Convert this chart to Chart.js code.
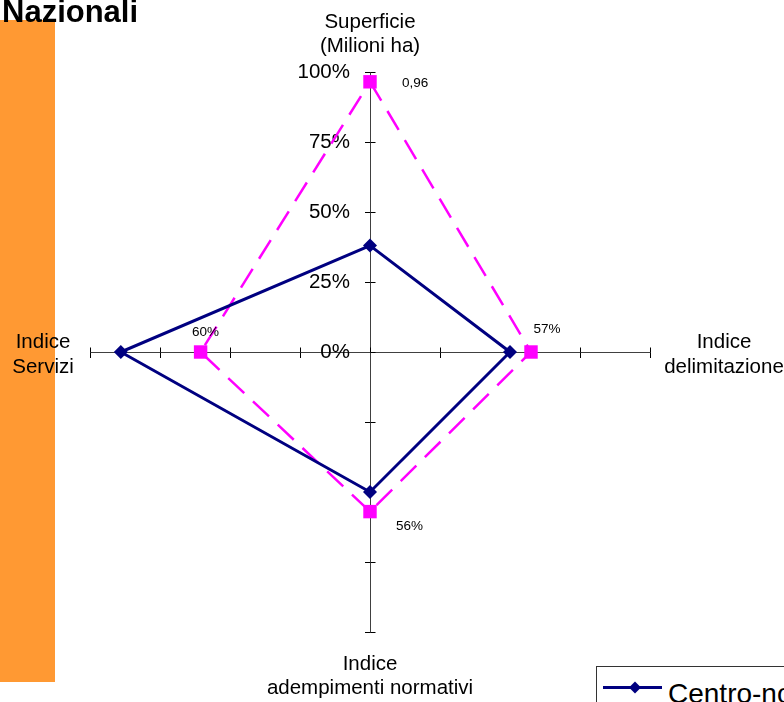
<!DOCTYPE html>
<html><head><meta charset="utf-8">
<script src="https://cdn.jsdelivr.net/npm/chart.js@4"></script>
<style>
html,body{margin:0;padding:0;background:#fff;overflow:hidden;}
#wrap{position:relative;width:784px;height:702px;overflow:hidden;}
#bar{position:absolute;left:0;top:20px;width:55px;height:662px;background:#FF9933;z-index:0;}
#title{position:absolute;left:2px;top:-4px;font:bold 31px 'Liberation Sans',Arial,sans-serif;line-height:31px;color:#000;z-index:3;white-space:nowrap;}
#cv{position:absolute;left:0;top:0;z-index:2;}
#legend{position:absolute;left:596px;top:666px;width:300px;height:100px;border:1px solid #333;background:#fff;z-index:3;}
#legend svg{position:absolute;left:6px;top:12px;}
#legend span{position:absolute;left:71px;top:12px;font:28px 'Liberation Sans',Arial,sans-serif;line-height:30px;color:#000;white-space:nowrap;}
</style></head>
<body>
<div id="wrap">
  <div id="bar"></div>
  <div id="title">Nazionali</div>
  <canvas id="cv" width="784" height="702"></canvas>
  <div id="legend"><svg width="62" height="18"><line x1="0" y1="8.5" x2="59" y2="8.5" stroke="#000080" stroke-width="3"/><polygon points="32,2.5 38,8.5 32,14.5 26,8.5" fill="#000080"/></svg><span id="legText"></span></div>
</div>
<script>
// axis order: top, right, bottom, left
const categories = [['Superficie', '(Milioni ha)'], ['Indice', 'delimitazione'], ['Indice', 'adempimenti normativi'], ['Indice', 'Servizi']];
const seriesNames = ['Centro-nord', 'Italia'];
const centroNord = [0.38, 0.50, 0.50, 0.89];
const italia = [0.965, 0.575, 0.57, 0.605];
const italiaLabels = ['0,96', '57%', '56%', '60%'];
const tickValues = [0, 0.25, 0.5, 0.75, 1];
const tickLabels = ['0%', '25%', '50%', '75%', '100%'];

document.getElementById('legText').textContent = seriesNames[0];

function toPoints(v) {
  return [{x: 0, y: v[0]}, {x: v[1], y: 0}, {x: 0, y: -v[2]}, {x: -v[3], y: 0}, {x: 0, y: v[0]}];
}
const FONT = "'Liberation Sans', Arial, sans-serif";

const radarLabels = {
  id: 'radarLabels',
  beforeDatasetsDraw(chart) {
    const {ctx, scales: {x, y}} = chart;
    const cx = Math.round(x.getPixelForValue(0)) + 0.5;
    const cy = Math.round(y.getPixelForValue(0)) + 0.5;
    ctx.save();
    ctx.strokeStyle = '#000'; ctx.lineWidth = 1;
    ctx.beginPath();
    y.ticks.forEach(t => { const py = Math.round(y.getPixelForValue(t.value)) + 0.5; ctx.moveTo(cx, py); ctx.lineTo(cx + 5, py); });
    x.ticks.forEach(t => { const px = Math.round(x.getPixelForValue(t.value)) + 0.5; ctx.moveTo(px, cy); ctx.lineTo(px, cy - 5); });
    ctx.stroke();
    ctx.restore();
  },
  afterDatasetsDraw(chart) {
    const {ctx, scales: {x, y}} = chart;
    const cx = x.getPixelForValue(0), cy = y.getPixelForValue(0);
    const top = y.getPixelForValue(1), bottom = y.getPixelForValue(-1);
    const left = x.getPixelForValue(-1), right = x.getPixelForValue(1);
    ctx.save();
    ctx.fillStyle = '#000';
    ctx.font = '20.5px ' + FONT;
    ctx.textAlign = 'center';
    ctx.textBaseline = 'alphabetic';
    const pos = [
      [cx, top - 44, top - 20],
      [right + 74, cy - 4, cy + 21],
      [cx, bottom + 38, bottom + 62],
      [left - 47, cy - 4, cy + 21]
    ];
    categories.forEach((lines, i) => {
      ctx.fillText(lines[0], pos[i][0], pos[i][1]);
      ctx.fillText(lines[1], pos[i][0], pos[i][2]);
    });
    // data labels of second series
    const meta = chart.getDatasetMeta(0);
    const offs = [['left', 32, 5], ['center', 16, -19], ['left', 26, 18], ['center', 5, -16]];
    ctx.font = '13.5px ' + FONT;
    italiaLabels.forEach((t, i) => {
      const el = meta.data[i];
      ctx.textAlign = offs[i][0];
      ctx.fillText(t, el.x + offs[i][1], el.y + offs[i][2]);
    });
    ctx.restore();
  }
};

new Chart(document.getElementById('cv'), {
  type: 'scatter',
  data: {
    datasets: [
      {
        label: seriesNames[1],
        data: toPoints(italia),
        showLine: true,
        borderColor: '#FF00FF',
        backgroundColor: '#FF00FF',
        borderWidth: 2.5,
        borderDash: [22, 12],
        pointStyle: 'rect',
        pointRadius: [9.5, 9.5, 9.5, 9.5, 0],
        pointBorderWidth: 0,
        order: 2
      },
      {
        label: seriesNames[0],
        data: toPoints(centroNord),
        showLine: true,
        borderColor: '#000080',
        backgroundColor: '#000080',
        borderWidth: 3,
        pointStyle: 'rectRot',
        pointRadius: [7, 7, 7, 7, 0],
        pointBorderWidth: 0,
        order: 1
      }
    ]
  },
  options: {
    responsive: false,
    animation: false,
    devicePixelRatio: 1,
    layout: {padding: {left: 90, right: 134, top: 72, bottom: 70}},
    plugins: {legend: {display: false}, tooltip: {enabled: false}},
    scales: {
      x: {
        type: 'linear', position: 'center', min: -1, max: 1,
        ticks: {stepSize: 0.25, display: false},
        grid: {drawOnChartArea: false, tickLength: 5, color: '#000'},
        border: {display: true, color: '#404040', width: 1}
      },
      y: {
        type: 'linear', position: 'center', min: -1, max: 1,
        ticks: {
          stepSize: 0.25, autoSkip: false, padding: 15, color: '#000',
          font: {family: FONT, size: 20.5},
          callback: (v) => { const k = tickValues.indexOf(v); return k >= 0 ? tickLabels[k] : ''; }
        },
        grid: {drawOnChartArea: false, tickLength: 5, color: '#000'},
        border: {display: true, color: '#404040', width: 1}
      }
    }
  },
  plugins: [radarLabels]
});
</script>
</body></html>
